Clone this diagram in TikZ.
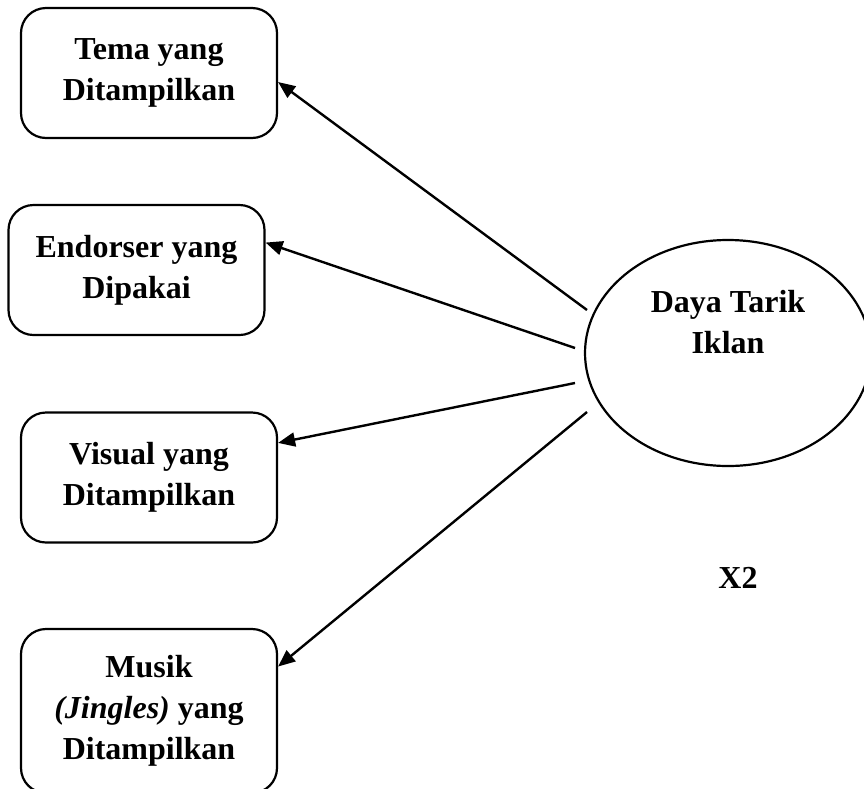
\documentclass[tikz,border=0pt]{standalone}
\usepackage{fontspec}
\setmainfont{Liberation Serif}
\usetikzlibrary{shapes,arrows.meta,positioning}

\begin{document}
\begin{tikzpicture}[x=1pt, y=-1pt,
    every node/.style={font=\fontsize{32}{41}\selectfont\bfseries},
    kotak/.style={draw, line width=2.2pt, rounded corners=25pt, align=center,
        minimum width=256pt, minimum height=130pt},
    panah/.style={-{Triangle[length=17pt, width=14pt]}, line width=2.4pt}]
\useasboundingbox (0,0) rectangle (864,788);
% ==== Indikator (kiri) ====
\node[kotak] (tema)   at (149, 73)  {Tema yang\\Ditampilkan};
\node[kotak] (endors) at (136.5, 270) {Endorser yang\\Dipakai};
\node[kotak] (visual) at (149, 477.5) {Visual yang\\Ditampilkan};
\node[kotak, minimum height=164pt]
    (musik)  at (149, 711) {Musik\\\textit{(Jingles)} yang\\Ditampilkan};

% ==== Variabel (kanan) ====
\node[draw, ellipse, line width=2.2pt, minimum width=286pt, minimum height=226pt]
    (iklan) at (728, 353) {};
\node[align=center] (iklanteks) at (728, 322) {Daya Tarik\\Iklan};
\node (xdua) at (738, 578) {X2};

% ==== Panah ====
\coordinate (s1) at (587, 310);
\coordinate (s2) at (575, 348);
\coordinate (s3) at (575, 383);
\coordinate (s4) at (587, 412);
\draw[panah] (s1) -- (tema.-4);
\draw[panah] (s2) -- (endors.12);
\draw[panah] (s3) -- (visual.15);
\draw[panah] (s4) -- (musik.19);
\end{tikzpicture}
\end{document}
